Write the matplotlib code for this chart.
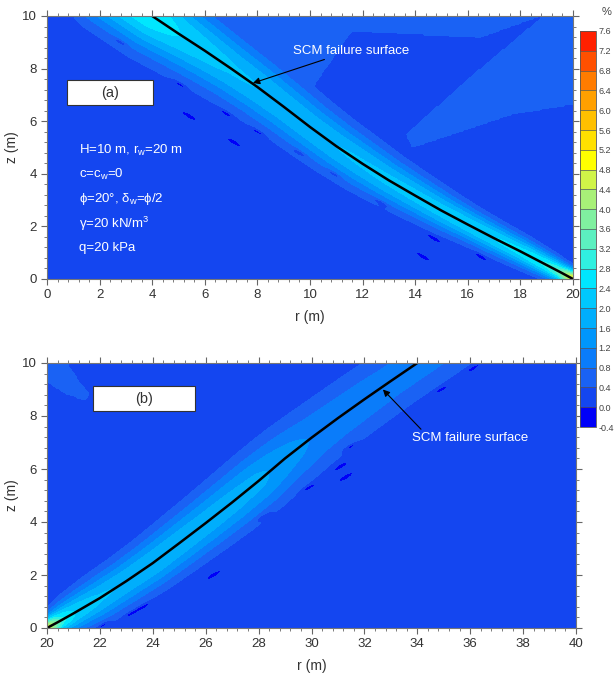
import numpy as np
import matplotlib
matplotlib.use("Agg")
import matplotlib.pyplot as plt
from matplotlib.colors import ListedColormap, BoundaryNorm
from matplotlib.path import Path
from matplotlib.patches import Rectangle

plt.rcParams['font.family'] = ['Liberation Sans', 'DejaVu Sans']
plt.rcParams['mathtext.default'] = 'regular'

# colour levels (%) of the strain field
levels = [-0.4, 0.0, 0.4, 0.8, 1.2, 1.6, 2.0, 2.4, 2.8, 3.2, 3.6, 4.0,
          4.4, 4.8, 5.2, 5.6, 6.0, 6.4, 6.8, 7.2, 7.6]
level_colors = ['#0000f8', '#1446f0', '#1a62f4', '#0a7cfa', '#0096fb', '#00aefc',
                '#00c8fd', '#00e6fe', '#30f0e0', '#5cf0c0', '#80f0a0', '#a8f078',
                '#d0f448', '#ffff00', '#ffe000', '#ffc000', '#ffa000', '#ff7c00',
                '#ff5000', '#ff2000']

# panel (a): failure surface (r, z) and band strength / width along it
a_r = [2.5, 4, 5, 6, 7, 8, 9, 10, 11, 12, 13, 14, 15, 16, 17, 18, 19, 19.5, 20]
a_z = [11.0, 10.0, 9.33, 8.68, 8.0, 7.3, 6.55, 5.78, 5.05, 4.38, 3.75, 3.17,
       2.6, 2.07, 1.55, 1.05, 0.53, 0.27, 0.0]
a_peak = [2.7, 2.7, 2.4, 2.2, 2.05, 2.0, 1.95, 1.95, 2.0, 2.05, 2.1, 2.15,
          2.2, 2.3, 2.4, 2.55, 2.9, 3.4, 5.0]
a_width = [1.3, 1.3, 1.25, 1.2, 1.15, 1.1, 1.05, 1.0, 0.95, 0.9, 0.82, 0.75,
           0.68, 0.6, 0.55, 0.5, 0.42, 0.36, 0.3]
a_light1 = [(18.75, 10.0), (20.0, 10.0), (20.0, 6.65), (17.7, 6.27), (13.9, 5.0),
            (13.68, 5.51), (15.96, 7.54), (18.75, 9.88)]
a_light2 = [(6.0, 10.0), (18.75, 10.0), (16.46, 9.19), (11.58, 9.44), (10.1, 7.3),
            (8.5, 7.5)]
a_spot_r = [2.8, 5.05, 5.4, 6.8, 7.1, 8.0, 9.6, 10.9, 12.7, 14.7, 14.3, 16.5]
a_spot_z = [9.0, 7.4, 6.2, 6.3, 5.2, 5.6, 4.8, 4.0, 2.9, 1.55, 0.85, 0.85]

# panel (b)
b_r = [20, 20.5, 21, 22, 23, 24, 25, 26, 27, 28, 29, 30, 31, 32, 33, 34, 35.4]
b_z = [0.0, 0.27, 0.55, 1.13, 1.77, 2.45, 3.2, 3.96, 4.74, 5.55, 6.4, 7.18,
       7.92, 8.63, 9.32, 10.0, 10.95]
b_peak = [4.8, 3.0, 2.4, 2.05, 1.95, 1.95, 1.9, 1.85, 1.8, 1.7, 1.4, 1.15,
          1.08, 1.05, 1.0, 1.0, 1.0]
b_width = [0.3, 0.5, 0.65, 0.8, 0.85, 0.9, 0.95, 1.0, 1.05, 1.1, 1.15, 1.2,
           1.2, 1.2, 1.2, 1.2, 1.2]
b_light = [(20.0, 10.0), (20.75, 10.0), (21.2, 9.3), (21.6, 8.8), (21.4, 8.6),
           (20.6, 8.9), (20.0, 9.3)]
b_spot_r = [23.63, 23.2, 26.3, 28.2, 29.9, 31.46, 31.1, 31.3, 34.9, 36.1, 22.1]
b_spot_z = [0.8, 0.56, 2.0, 4.2, 5.3, 6.83, 6.1, 5.7, 9.0, 9.8, 0.1]

params = ["H=10 m, r$_w$=20 m", "c=c$_w$=0", "\u03d5=20\u00b0, \u03b4$_w$=\u03d5/2",
          "\u03b3=20 kN/m$^3$", "q=20 kPa"]


def field(r0, r1, cr, cz, cpeak, cwid, lights, sr, sz, tilt):
    R, Z = np.meshgrid(np.linspace(r0, r1, 401), np.linspace(0, 10, 201))
    F = np.full(R.shape, 0.2)
    pts = np.column_stack([R.ravel(), Z.ravel()])
    for poly in lights:
        inside = Path(poly).contains_points(pts).reshape(R.shape)
        F[inside] = 0.6
    # densify the ridge so the band is smooth
    s = np.concatenate([[0], np.cumsum(np.hypot(np.diff(cr), np.diff(cz)))])
    ss = np.linspace(0, s[-1], 400)
    dr = np.interp(ss, s, cr)
    dz = np.interp(ss, s, cz)
    dp = np.interp(ss, s, cpeak)
    dw = np.interp(ss, s, cwid)
    band = np.zeros(R.shape)
    for x, y, p, w in zip(dr, dz, dp, dw):
        band = np.maximum(band, p * np.exp(-((R - x) ** 2 + (Z - y) ** 2) / w ** 2))
    F = np.maximum(F, band)
    c, sn = np.cos(np.radians(tilt)), np.sin(np.radians(tilt))
    for x, y in zip(sr, sz):
        u = (R - x) * c + (Z - y) * sn
        v = -(R - x) * sn + (Z - y) * c
        F -= 0.6 * np.exp(-(u / 0.28) ** 2 - (v / 0.08) ** 2)
    return R, Z, F


cmap = ListedColormap(level_colors)
norm = BoundaryNorm(levels, cmap.N)

fig = plt.figure(figsize=(6.14, 6.87), dpi=100)
W, H = 614.0, 687.0
ax1 = fig.add_axes([47 / W, 1 - 279 / H, 526 / W, 263 / H])
ax2 = fig.add_axes([47 / W, 1 - 628 / H, 529 / W, 265 / H])
cax = fig.add_axes([580 / W, 1 - 427 / H, 16 / W, 396 / H])

R, Z, F = field(0, 20, a_r, a_z, a_peak, a_width, [a_light1, a_light2],
                a_spot_r, a_spot_z, -30)
cs = ax1.contourf(R, Z, np.clip(F, -0.39, 7.59), levels=levels, cmap=cmap, norm=norm)
ax1.plot(a_r, a_z, color='black', lw=1.8)

R, Z, F = field(20, 40, b_r, b_z, b_peak, b_width, [b_light], b_spot_r, b_spot_z, 30)
ax2.contourf(R, Z, np.clip(F, -0.39, 7.59), levels=levels, cmap=cmap, norm=norm)
ax2.plot(b_r, b_z, color='black', lw=1.8)

for ax, lo in [(ax1, 0), (ax2, 20)]:
    ax.set_xlim(lo, lo + 20)
    ax.set_ylim(0, 10)
    ax.set_xticks(np.arange(lo, lo + 21, 2))
    ax.set_yticks([0, 2, 4, 6, 8, 10])
    ax.set_xticks(np.arange(lo, lo + 20.01, 0.4), minor=True)
    ax.set_yticks(np.arange(0, 10.01, 0.4), minor=True)
    ax.tick_params(which='both', direction='out', top=True, right=True,
                   color='#666666', labelsize=9.5, labelcolor='#333333')
    ax.tick_params(which='major', length=4, width=0.8)
    ax.tick_params(which='minor', length=2.5, width=0.6)
    for sp in ax.spines.values():
        sp.set_color('#777777')
        sp.set_linewidth(0.8)
    ax.set_ylabel('z (m)', fontsize=10, color='#333333', labelpad=2)
    ax.set_xlabel('r (m)', fontsize=10, color='#333333', labelpad=6)

# panel labels
ax1.add_patch(Rectangle((0.76, 6.62), 3.27, 0.95, facecolor='white',
                        edgecolor='#333333', lw=0.8, zorder=5))
ax1.text(2.4, 7.08, '(a)', ha='center', va='center', fontsize=10.5, color='#333333', zorder=6)
ax2.add_patch(Rectangle((21.74, 8.18), 3.86, 0.95, facecolor='white',
                        edgecolor='#333333', lw=0.8, zorder=5))
ax2.text(23.67, 8.64, '(b)', ha='center', va='center', fontsize=10.5, color='#333333', zorder=6)

for i, t in enumerate(params):
    ax1.text(1.2, 4.9 - i * 0.93, t, color='white', fontsize=9.5, va='center', ha='left')

ax1.annotate('SCM failure surface', xy=(7.83, 7.45), xytext=(9.35, 8.68),
             color='white', fontsize=9.5, va='center', ha='left',
             arrowprops=dict(arrowstyle='-|>', color='black', lw=0.8,
                             mutation_scale=10, shrinkA=0, shrinkB=0))
ax2.annotate('SCM failure surface', xy=(32.7, 9.0), xytext=(33.8, 7.17),
             color='white', fontsize=9.5, va='center', ha='left',
             arrowprops=dict(arrowstyle='-|>', color='black', lw=0.8,
                             mutation_scale=10, shrinkA=0, shrinkB=0,
                             relpos=(0.1, 1.0)))

cb = fig.colorbar(cs, cax=cax, ticks=levels, drawedges=True)
cb.dividers.set_color('#555555')
cb.dividers.set_linewidth(0.5)
cb.outline.set_edgecolor('#555555')
cb.outline.set_linewidth(0.6)
cb.ax.tick_params(labelsize=6.5, length=0, pad=2, labelcolor='#444444')
cb.ax.set_yticklabels(['%.1f' % v for v in levels])
fig.text(602 / W, 1 - 12 / H, '%', fontsize=8, color='#444444', va='center', ha='left')

fig.savefig('out.png', dpi=100)
